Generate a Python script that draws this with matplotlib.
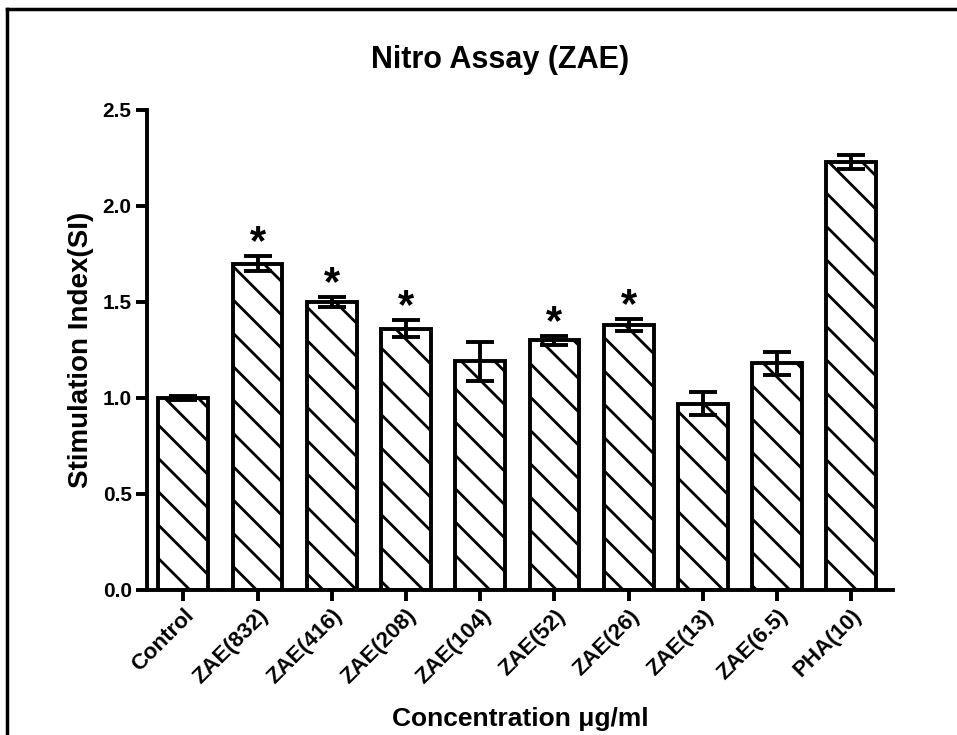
import numpy as np
import matplotlib
matplotlib.use("Agg")
import matplotlib.pyplot as plt
from matplotlib.lines import Line2D

# data
groups = ["Control", "ZAE(832)", "ZAE(416)", "ZAE(208)", "ZAE(104)",
          "ZAE(52)", "ZAE(26)", "ZAE(13)", "ZAE(6.5)", "PHA(10)"]
si_mean = [1.00, 1.70, 1.50, 1.36, 1.19, 1.30, 1.38, 0.97, 1.18, 2.23]
si_err = [0.01, 0.04, 0.025, 0.045, 0.10, 0.025, 0.03, 0.06, 0.06, 0.035]
significant = [False, True, True, True, False, True, True, False, False, False]

plt.rcParams['font.family'] = ['Liberation Sans', 'DejaVu Sans']
plt.rcParams['hatch.linewidth'] = 2.0

fig = plt.figure(figsize=(9.57, 7.35), dpi=100)
ax = fig.add_axes([0.1536, 0.1973, 0.7794, 0.6531])

x = np.arange(len(groups))
ax.bar(x, si_mean, width=0.67, color="white", edgecolor="black",
       linewidth=2.8, hatch="\\", zorder=2)
ax.errorbar(x, si_mean, yerr=si_err, fmt="none", ecolor="black",
            elinewidth=2.8, capsize=10, capthick=2.8, zorder=3)

# significance stars
for xi, m, e, s in zip(x, si_mean, si_err, significant):
    if s:
        ax.text(xi, m + e + 0.01, "*", ha="center", va="baseline",
                fontsize=30, fontweight="bold")

ax.set_xlim(-0.49, 9.56)
ax.set_ylim(0, 2.5)
ax.set_yticks([0.0, 0.5, 1.0, 1.5, 2.0, 2.5])
ax.set_yticklabels(["0.0", "0.5", "1.0", "1.5", "2.0", "2.5"])
ax.set_xticks(x)
ax.set_xticklabels(groups, rotation=45, ha="right", rotation_mode="anchor")

for lab in ax.get_yticklabels():
    lab.set_fontweight("bold")
    lab.set_fontsize(15)
for lab in ax.get_xticklabels():
    lab.set_fontweight("bold")
    lab.set_fontsize(16)

ax.spines["top"].set_visible(False)
ax.spines["right"].set_visible(False)
ax.spines["left"].set_linewidth(2.8)
ax.spines["bottom"].set_linewidth(2.8)
ax.tick_params(direction="out", length=8, width=2.8, pad=3)

ax.set_ylabel("Stimulation Index(SI)", fontsize=20, fontweight="bold")
ax.yaxis.set_label_coords(-0.071, 0.5)
ax.set_xlabel("Concentration \u03bcg/ml", fontsize=19, fontweight="bold")
ax.xaxis.set_label_coords(0.5, -0.243)

fig.text(500 / 957, 1 - 68 / 735, "Nitro Assay (ZAE)", ha="center",
         va="baseline", fontsize=22, fontweight="bold")

# page frame around the figure
fig.add_artist(Line2D([0.007, 1.0], [0.988, 0.988], color="black", lw=2.5))
fig.add_artist(Line2D([0.007, 0.007], [0.0, 0.988], color="black", lw=2.5))

fig.savefig("out.png", dpi=100)
